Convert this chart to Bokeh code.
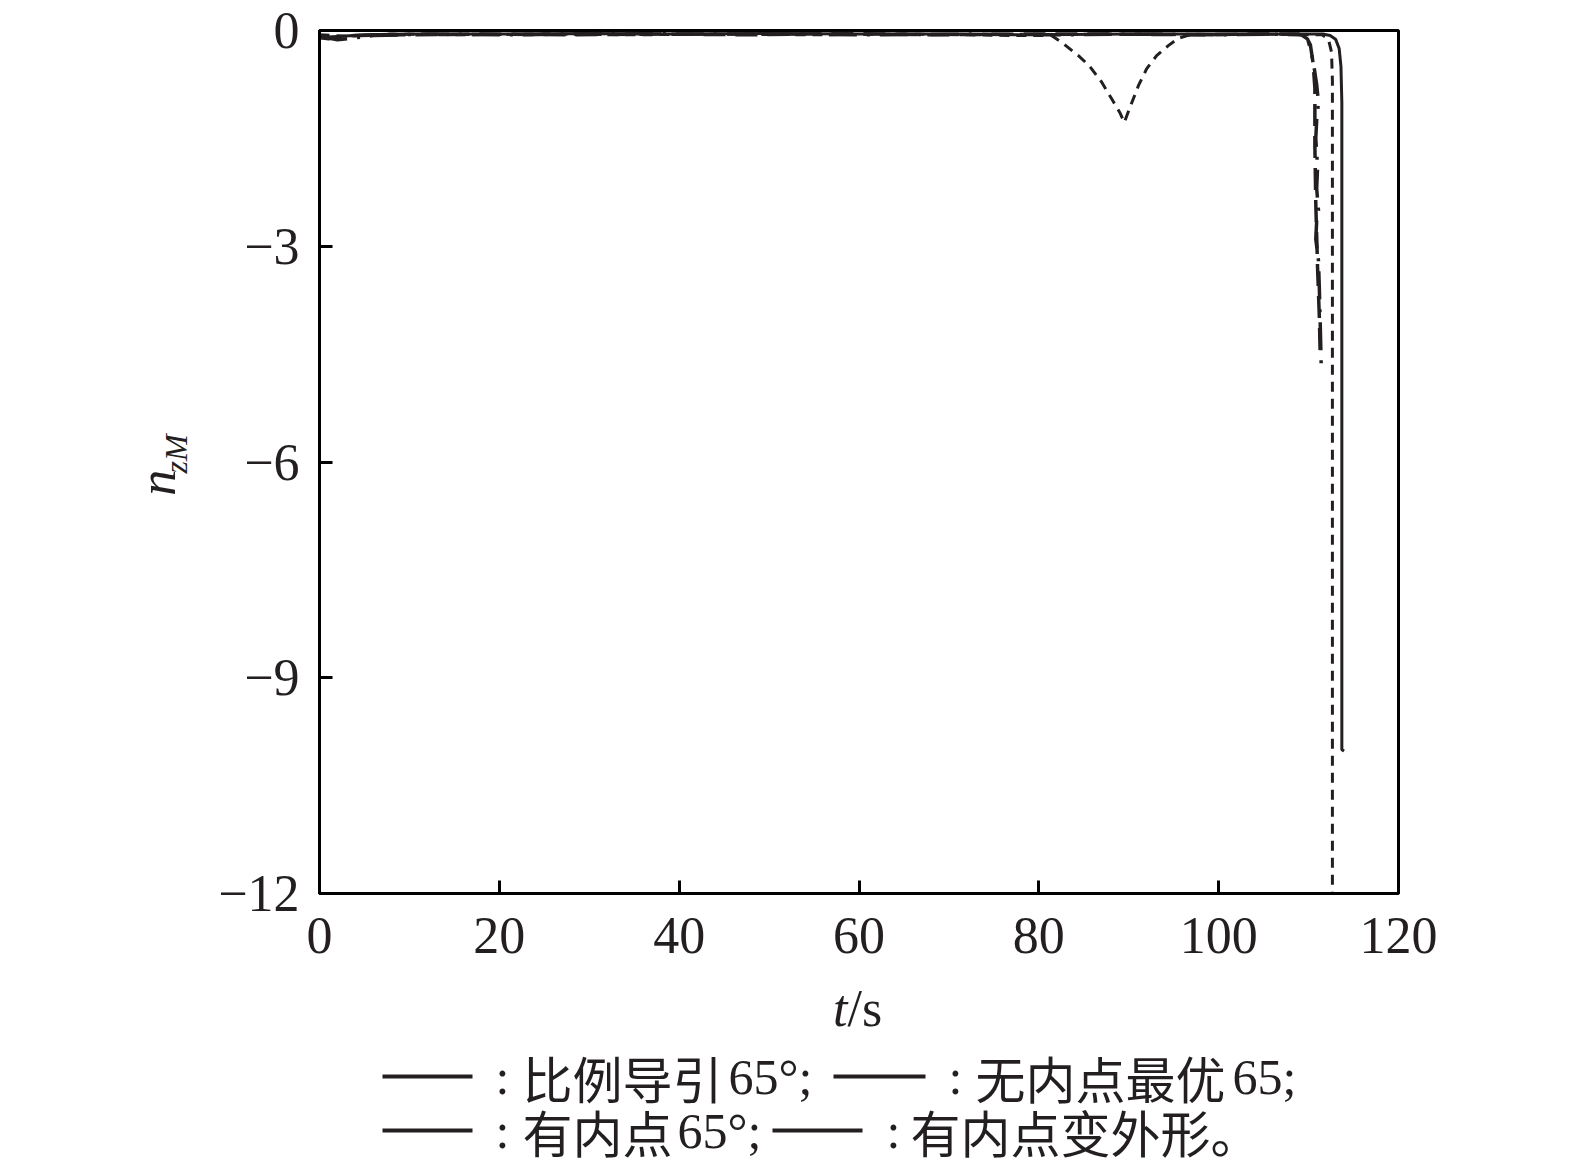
import math
from bokeh.plotting import figure
from bokeh.models import Range1d, FixedTicker
from bokeh.layouts import gridplot
from bokeh.core.properties import value
from bokeh.embed import file_html
from bokeh.resources import INLINE

# ---------------- data ----------------
x_ticks = [0, 20, 40, 60, 80, 100, 120]
y_ticks = [0, -3, -6, -9, -12]
y_tick_labels = ["0", "\u22123", "\u22126", "\u22129", "\u221212"]

# 比例导引65° (solid)
t_pn = [0, 1, 2.5, 5, 10, 20, 30, 40, 50, 60, 70, 80, 90, 100, 106, 110,
        111.6, 112.4, 113.0, 113.4, 113.6, 113.7, 113.7, 113.95]
n_pn = [-0.1, -0.12, -0.08, -0.06, -0.05, -0.05, -0.04, -0.05, -0.04, -0.05,
        -0.05, -0.06, -0.05, -0.05, -0.05, -0.05, -0.05, -0.07, -0.12, -0.25,
        -0.5, -1.0, -10.0, -10.02]

# 无内点最优65 (short dashes, dip near 89 s)
t_opt = [0, 3, 8, 15, 25, 35, 45, 55, 65, 72, 78, 81.4, 82.5, 84.4, 85.6, 87.0,
         88.1, 89.0, 89.5, 90.1, 91.1, 92.0, 93.1, 94.4, 95.5, 97.0, 100, 105,
         110, 111.5, 112.2, 112.55, 112.65, 112.65]
n_opt = [-0.06, -0.08, -0.05, -0.06, -0.05, -0.06, -0.05, -0.06, -0.05, -0.06,
         -0.07, -0.07, -0.16, -0.35, -0.49, -0.72, -0.95, -1.14, -1.28, -1.08,
         -0.76, -0.53, -0.35, -0.21, -0.11, -0.05, -0.06, -0.05, -0.06, -0.06,
         -0.12, -0.3, -0.7, -12.5]

# 有内点65° (dash-dot)
t_ip = [0, 2, 6, 12, 22, 32, 42, 52, 62, 72, 82, 92, 100, 106, 109.2, 109.9,
        110.3, 110.6, 110.9, 111.1, 110.9, 110.8, 111.0, 110.9, 111.1, 110.9,
        110.8, 111.1, 111.2, 111.3, 111.4]
n_ip = [-0.08, -0.13, -0.07, -0.05, -0.06, -0.04, -0.05, -0.05, -0.06, -0.05,
        -0.06, -0.05, -0.06, -0.05, -0.06, -0.12, -0.3, -0.5, -0.75, -1.0,
        -1.25, -1.5, -1.9, -2.2, -2.5, -2.65, -2.9, -3.2, -3.6, -4.1, -4.63]

# 有内点变外形 (long dashes)
t_ipv = [0, 4, 9, 18, 28, 38, 48, 58, 68, 78, 88, 98, 104, 108.9, 109.7, 110.2,
         110.5, 110.7, 110.7, 110.8, 111.0, 111.2, 111.3]
n_ipv = [-0.1, -0.07, -0.06, -0.05, -0.06, -0.05, -0.06, -0.04, -0.06, -0.05,
         -0.05, -0.06, -0.05, -0.05, -0.08, -0.2, -0.45, -0.8, -1.6, -2.4,
         -3.3, -4.0, -4.55]

legend_cjk = ["比例导引", "无内点最优", "有内点", "有内点变外形。"]
legend_num = ["65°;", "65;", "65°;"]

SERIF = "Liberation Serif"
CJK = "Noto Sans CJK SC"
lc = "#231f20"

# page geometry (px); Bokeh's page template has no body margin
LEFT_W = 205          # width of the y-title strip
BL = 114              # main figure left border -> frame left at page 319
FW, FH = 1079, 863    # frame size
P_W = 1355
BR = P_W - BL - FW
BT = 30               # frame top at page 30
BB = 84
P_H = BT + FH + BB
LG_H = 192
frame_left = LEFT_W + BL
frame_right = frame_left + FW
lg_top = P_H

yr = Range1d(-12, 0)

# ---------------- main figure ----------------
p = figure(width=P_W, height=P_H, output_backend="svg", toolbar_location=None,
           x_range=Range1d(0, 120), y_range=yr,
           min_border_left=BL, min_border_right=BR, min_border_top=BT,
           min_border_bottom=BB)
p.grid.visible = False
p.outline_line_color = "black"
p.outline_line_width = 3

for ax in (p.xaxis[0], p.yaxis[0]):
    ax.axis_line_width = 3
    ax.axis_line_color = "black"
    ax.major_tick_in = 13
    ax.major_tick_out = 0
    ax.major_tick_line_width = 3
    ax.minor_tick_line_color = None
    ax.major_label_text_font = SERIF
    ax.major_label_text_font_size = "52px"
    ax.major_label_text_color = lc

p.xaxis.ticker = FixedTicker(ticks=x_ticks)
p.yaxis.ticker = FixedTicker(ticks=y_ticks)
p.yaxis.major_label_overrides = {v: s for v, s in zip(y_ticks, y_tick_labels)}
p.xaxis.major_label_standoff = 24
p.yaxis.major_label_standoff = 20

p.line(t_pn, n_pn, line_color=lc, line_width=3)
p.line(t_opt, n_opt, line_color=lc, line_width=3, line_dash="10 7")
p.line(t_ip, n_ip, line_color=lc, line_width=3.5, line_dash="28 10 3 10")
p.line(t_ipv, n_ipv, line_color=lc, line_width=3.5, line_dash="22 10")

# ---------------- y-title strip ----------------
yl = figure(width=LEFT_W, height=P_H, output_backend="svg", toolbar_location=None,
            x_range=Range1d(0, LEFT_W), y_range=yr,
            x_axis_type=None, y_axis_type=None,
            min_border_left=0, min_border_right=0, min_border_top=BT, min_border_bottom=BB)
yl.grid.visible = False
yl.outline_line_color = None
yl.text(x=[157], y=[-6.47], text=["n"], angle=math.pi / 2, text_font=value(SERIF),
        text_font_style="italic", text_font_size=value("52px"), text_align="left",
        text_baseline="alphabetic", text_color=lc)
yl.text(x=[175], y=[-6.16], text=["zM"], angle=math.pi / 2, text_font=value(SERIF),
        text_font_style="italic", text_font_size=value("32px"), text_align="left",
        text_baseline="alphabetic", text_color=lc)

# ---------------- x-title + legend strip ----------------
lg = figure(width=P_W, height=LG_H, output_backend="svg", toolbar_location=None,
            x_range=Range1d(frame_left, frame_right), y_range=Range1d(lg_top + LG_H, lg_top),
            x_axis_type=None, y_axis_type=None,
            min_border_left=BL, min_border_right=BR,
            min_border_top=0, min_border_bottom=0)
lg.grid.visible = False
lg.outline_line_color = None

lg.text(x=[847], y=[1008], text=["t"], text_font=value(SERIF), text_font_style="italic",
        text_font_size=value("52px"), text_align="right", text_baseline="middle",
        text_color=lc)
lg.text(x=[847], y=[1008], text=["/s"], text_font=value(SERIF),
        text_font_size=value("52px"), text_align="left", text_baseline="middle",
        text_color=lc)

r1, r2 = 1076, 1130
seg_y = [r1, r1, r2, r2]
lg.segment(x0=[382, 833, 382, 772], y0=seg_y, x1=[472, 925, 472, 862], y1=seg_y,
           line_color=lc, line_width=4)
lg.text(x=[502, 955, 502, 893], y=seg_y, text=[":"] * 4, text_font=value(SERIF),
        text_font_size=value("50px"), text_align="center", text_baseline="middle",
        text_color=lc)
lg.text(x=[522, 975, 522, 910], y=seg_y, text=legend_cjk, text_font=value(CJK),
        text_font_size=value("50px"), text_align="left", text_baseline="middle",
        text_color=lc)
lg.text(x=[728, 1232, 677], y=[r1, r1, r2], text=legend_num, text_font=value(SERIF),
        text_font_size=value("50px"), text_align="left", text_baseline="middle",
        text_color=lc)

grid = gridplot([[yl, p], [None, lg]], toolbar_location=None)
open("out.html", "w").write(file_html(grid, INLINE))
